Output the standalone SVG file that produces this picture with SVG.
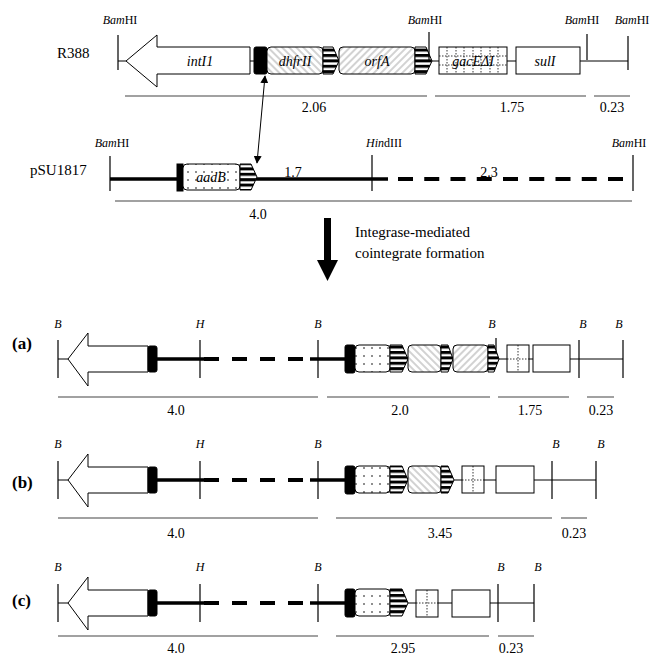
<svg xmlns="http://www.w3.org/2000/svg" width="659" height="662" viewBox="0 0 659 662">
<style>
text{font-family:"Liberation Serif","Times New Roman",serif;fill:#000}
.lbl{font-size:12px}
.num{font-size:14px;text-anchor:middle}
.gene{font-size:14px;font-style:italic;text-anchor:middle}
.it{font-style:italic}
.site{font-size:12px;font-style:italic;text-anchor:middle}
.row{font-size:17px;font-weight:bold}
.thin{stroke:#000;stroke-width:1;fill:none}
.cut{stroke:#000;stroke-width:1.2;fill:none}
.scale{stroke:#444;stroke-width:1.2;fill:none}
.thick{stroke:#000;stroke-width:3.5;fill:none}
.dash{stroke:#000;stroke-width:4;fill:none}
.box{stroke:#000;stroke-width:1;fill:#fff}
.blk{fill:#000;stroke:#000;stroke-width:1}
.hb{fill:url(#hatchB);stroke:#000;stroke-width:1}
.hf{fill:url(#hatchF);stroke:#000;stroke-width:1}
.dt{fill:url(#dots);stroke:#000;stroke-width:1}
.st{fill:url(#stripes);stroke:#000;stroke-width:1}
.grid{stroke:#000;stroke-width:0.8;stroke-dasharray:1.5 1.5;fill:none}
</style>
<defs>
<pattern id="hatchF" width="5" height="5" patternUnits="userSpaceOnUse" patternTransform="rotate(45)"><rect width="5" height="5" fill="#fff"/><line x1="1" y1="0" x2="1" y2="5" stroke="#666" stroke-width="0.6"/></pattern>
<pattern id="hatchB" width="5" height="5" patternUnits="userSpaceOnUse" patternTransform="rotate(-45)"><rect width="5" height="5" fill="#fff"/><line x1="1" y1="0" x2="1" y2="5" stroke="#666" stroke-width="0.6"/></pattern>
<pattern id="dots" width="8" height="8" patternUnits="userSpaceOnUse"><rect width="8" height="8" fill="#fff"/><circle cx="4" cy="4" r="0.8" fill="#000"/></pattern>
<pattern id="stripes" width="6" height="5.4" patternUnits="userSpaceOnUse"><rect width="6" height="5.4" fill="#fff"/><rect width="6" height="3" fill="#000"/></pattern>
<marker id="ah" viewBox="0 0 10 10" refX="9" refY="5" markerWidth="8" markerHeight="8" markerUnits="userSpaceOnUse" orient="auto-start-reverse"><path d="M0,0 L10,5 L0,10 Z" fill="#000"/></marker>
</defs>

<!-- R388 -->
<g id="r388">
<text x="57" y="58" style="font-size:15px">R388</text>
<text x="120" y="24" class="lbl" text-anchor="middle"><tspan class="it">Bam</tspan>HI</text>
<text x="425" y="24" class="lbl" text-anchor="middle"><tspan class="it">Bam</tspan>HI</text>
<text x="582" y="24" class="lbl" text-anchor="middle"><tspan class="it">Bam</tspan>HI</text>
<text x="632" y="24" class="lbl" text-anchor="middle"><tspan class="it">Bam</tspan>HI</text>
<path class="thin" d="M118,61 H126 M250,61 H254 M432,61 H439 M507,61 H516 M580,61 H628"/>
<path class="cut" d="M118,35 V70 M587,34 V60 M628,36 V70"/>
<g id="intI1"><polygon class="box" points="126,61 157,35 157,47 250,47 250,74 157,74 157,87"/><text x="200" y="66" class="gene">intI1</text></g>
<rect id="attI-r388" class="blk" x="254" y="47" width="13" height="27" rx="2"/>
<g id="dhfrII"><rect class="hb" x="267" y="47" width="56" height="27" rx="4"/><text x="295" y="66" class="gene">dhfrII</text></g>
<path class="st" d="M323,47 H333 L339,61 L333,74 H323 Z"/>
<g id="orfA"><rect class="hf" x="339" y="47" width="76" height="27" rx="4"/><text x="377" y="66" class="gene">orfA</text></g>
<path class="st" d="M415,47 H426 L432,61 L426,74 H415 Z"/>
<path class="cut" d="M429,32 V60"/>
<g id="gacE"><rect class="box" x="439" y="47" width="68" height="27"/>
<path class="grid" d="M447,47 V74 M456,47 V74 M464,47 V74 M473,47 V74 M481,47 V74 M490,47 V74 M498,47 V74 M439,56 H507 M439,65 H507"/>
<text x="473" y="66" class="gene">gacEΔI</text></g>
<g id="sulI"><rect class="box" x="516" y="47" width="64" height="27"/><text x="545" y="66" class="gene">sulI</text></g>
<path class="scale" d="M125,96 H427 M435,96 H586 M594,96 H630"/>
<text x="314" y="112" class="num">2.06</text>
<text x="512" y="112" class="num">1.75</text>
<text x="612" y="112" class="num">0.23</text>
</g>

<!-- pSU1817 -->
<g id="psu1817">
<text x="30" y="175" style="font-size:15px">pSU1817</text>
<text x="112" y="147" class="lbl" text-anchor="middle"><tspan class="it">Bam</tspan>HI</text>
<text x="384" y="147" class="lbl" text-anchor="middle"><tspan class="it">Hin</tspan>dIII</text>
<text x="629" y="147" class="lbl" text-anchor="middle"><tspan class="it">Bam</tspan>HI</text>
<path class="cut" d="M110,156 V191 M372,155 V191 M633,155 V191"/>
<path class="thick" d="M110,179 H177 M256,179 H388"/>
<path class="dash" d="M398,179 H623" stroke-dasharray="15 11.25"/>
<rect class="blk" x="177" y="164" width="6" height="27"/>
<g id="aadB"><rect class="dt" x="183" y="164" width="57" height="26" rx="4"/><text x="211" y="182" class="gene">aadB</text></g>
<path class="st" d="M240,164 H251 L257,177 L251,190 H240 Z"/>
<text x="293" y="177" class="num">1.7</text>
<text x="489" y="177" class="num">2.3</text>
<path class="scale" d="M115,201 H632"/>
<text x="258" y="219" class="num">4.0</text>
</g>

<!-- connectors -->
<g id="connectors">
<line x1="265" y1="76" x2="257" y2="163" stroke="#000" stroke-width="1" marker-start="url(#ah)" marker-end="url(#ah)"/>
<path d="M324,218 H331 V260 H338 L327.5,281 L317,260 H324 Z" fill="#000"/>
<text x="355" y="237" style="font-size:15px">Integrase-mediated</text>
<text x="355" y="258" style="font-size:15px">cointegrate formation</text>
</g>

<!-- row (a) C=359 -->
<g id="row-a">
<text x="12" y="349" class="row">(a)</text>
<text x="58" y="328" class="site">B</text><text x="200" y="328" class="site">H</text><text x="318" y="328" class="site">B</text><text x="492" y="328" class="site">B</text><text x="583" y="328" class="site">B</text><text x="619" y="328" class="site">B</text>
<path class="cut" d="M58,340 V378 M200,340 V378 M318,340 V378 M579,340 V378 M623,340 V378 M496,338 V362"/>
<path class="thin" d="M58,359 H68 M499,359 H507 M529,359 H533 M570,359 H623"/>
<polygon class="box" points="68,359 88,333 88,346 148,346 148,372 88,372 88,386"/>
<rect class="blk" x="148" y="346" width="9" height="26" rx="2"/>
<path class="thick" d="M157,359 H204 M310,359 H345"/>
<path class="dash" d="M204,359 H312" stroke-dasharray="15 13"/>
<rect class="blk" x="345" y="345" width="10" height="28" rx="2"/>
<rect class="dt" x="355" y="345" width="35" height="27" rx="4"/>
<path class="st" d="M390,345 H402 L408,359 L402,372 H390 Z"/>
<rect class="hb" x="408" y="345" width="33" height="27" rx="4"/>
<path class="st" d="M441,345 H448 L453,359 L448,372 H441 Z"/>
<rect class="hf" x="453" y="345" width="35" height="27" rx="4"/>
<path class="st" d="M488,345 H494 L499,359 L494,372 H488 Z"/>
<rect class="box" x="507" y="345" width="22" height="27"/><path class="grid" d="M518,345 V372 M507,359 H529"/>
<rect class="box" x="533" y="345" width="37" height="27"/>
<path class="scale" d="M58,397 H318 M327,397 H490 M498,397 H569 M587,397 H614"/>
<text x="176" y="415" class="num">4.0</text><text x="400" y="415" class="num">2.0</text><text x="530" y="415" class="num">1.75</text><text x="601" y="415" class="num">0.23</text>
</g>

<!-- row (b) C=480 -->
<g id="row-b">
<text x="12" y="488" class="row">(b)</text>
<text x="58" y="448" class="site">B</text><text x="200" y="448" class="site">H</text><text x="318" y="448" class="site">B</text><text x="556" y="448" class="site">B</text><text x="601" y="448" class="site">B</text>
<path class="cut" d="M58,461 V499 M200,461 V499 M318,461 V499 M552,461 V499 M596,461 V499"/>
<path class="thin" d="M58,480 H68 M454,480 H462 M484,480 H496 M534,480 H596"/>
<polygon class="box" points="68,480 88,454 88,467 148,467 148,493 88,493 88,507"/>
<rect class="blk" x="148" y="467" width="9" height="26" rx="2"/>
<path class="thick" d="M157,480 H204 M310,480 H345"/>
<path class="dash" d="M204,480 H312" stroke-dasharray="15 13"/>
<rect class="blk" x="345" y="466" width="10" height="28" rx="2"/>
<rect class="dt" x="355" y="466" width="35" height="27" rx="4"/>
<path class="st" d="M390,466 H402 L408,480 L402,493 H390 Z"/>
<rect class="hb" x="408" y="466" width="33" height="27" rx="4"/>
<path class="st" d="M441,466 H448 L454,480 L448,493 H441 Z"/>
<rect class="box" x="462" y="466" width="22" height="27"/><path class="grid" d="M473,466 V493 M462,480 H484"/>
<rect class="box" x="496" y="466" width="38" height="27"/>
<path class="scale" d="M58,518 H318 M336,518 H552 M561,518 H587"/>
<text x="176" y="538" class="num">4.0</text><text x="440" y="538" class="num">3.45</text><text x="574" y="538" class="num">0.23</text>
</g>

<!-- row (c) C=603 -->
<g id="row-c">
<text x="12" y="606" class="row">(c)</text>
<text x="58" y="571" class="site">B</text><text x="200" y="571" class="site">H</text><text x="318" y="571" class="site">B</text><text x="501" y="571" class="site">B</text><text x="538" y="571" class="site">B</text>
<path class="cut" d="M58,584 V622 M200,584 V622 M318,584 V622 M498,584 V622 M534,584 V622"/>
<path class="thin" d="M58,603 H68 M408,603 H416 M438,603 H452 M490,603 H534"/>
<polygon class="box" points="68,603 88,577 88,590 148,590 148,616 88,616 88,630"/>
<rect class="blk" x="148" y="590" width="9" height="26" rx="2"/>
<path class="thick" d="M157,603 H204 M310,603 H345"/>
<path class="dash" d="M204,603 H312" stroke-dasharray="15 13"/>
<rect class="blk" x="345" y="589" width="10" height="28" rx="2"/>
<rect class="dt" x="355" y="589" width="35" height="27" rx="4"/>
<path class="st" d="M390,589 H402 L408,603 L402,616 H390 Z"/>
<rect class="box" x="416" y="590" width="22" height="27"/><path class="grid" d="M427,590 V617 M416,603 H438"/>
<rect class="box" x="452" y="590" width="38" height="27"/>
<path class="scale" d="M58,636 H318 M336,636 H489 M498,636 H534"/>
<text x="176" y="653" class="num">4.0</text><text x="403" y="653" class="num">2.95</text><text x="511" y="653" class="num">0.23</text>
</g>
</svg>
